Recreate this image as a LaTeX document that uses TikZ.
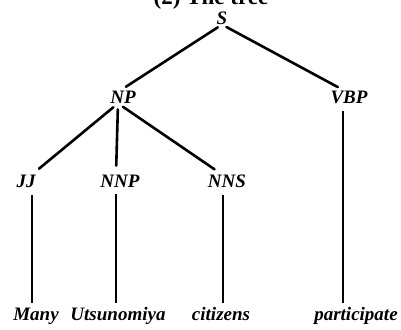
\documentclass[tikz,border=0pt]{standalone}
\usepackage{fontspec}
\setmainfont{Liberation Serif}
\begin{document}
\begin{tikzpicture}[x=1pt,y=-1pt,
  lbl/.style={inner sep=0pt, font=\fontsize{19}{21}\selectfont\bfseries\itshape},
  word/.style={lbl, anchor=base},
  branch/.style={line width=2.6pt, line cap=round},
  stem/.style={line width=1.7pt}]
  \useasboundingbox (0,0) rectangle (401,329);

  % heading, only its lower edge falls inside the page
  \node[anchor=base, inner sep=0pt, font=\fontsize{23}{25}\selectfont\bfseries] (title) at (211,4.5) {(2) The tree};

  % phrase labels
  \node[lbl] (S)   at (222,18) {S};
  \node[lbl] (NP)  at (123,97) {NP};
  \node[lbl] (VBP) at (349,97) {VBP};
  \node[lbl] (JJ)  at (26,181) {JJ};
  \node[lbl] (NNP) at (120,181) {NNP};
  \node[lbl] (NNS) at (227,181) {NNS};

  % words
  \node[word] (w1) at (36,320)  {Many};
  \node[word] (w2) at (118,320) {Utsunomiya};
  \node[word] (w3) at (221,320) {citizens};
  \node[word] (w4) at (356,320) {participate};

  % branches below S
  \draw[branch, shorten <=5pt, shorten >=7pt] (S.south) -- ([xshift=-3pt]NP.north);
  \draw[branch, shorten <=5pt, shorten >=7pt] (S.south) -- ([xshift=-5pt]VBP.north);

  % branches below NP
  \draw[branch, shorten <=6pt, shorten >=9pt] ([xshift=-5pt]NP.south) -- ([xshift=6pt]JJ.north);
  \draw[branch, shorten <=6pt, shorten >=9pt] ([xshift=-5pt]NP.south) -- ([xshift=-4pt]NNP.north);
  \draw[branch, shorten <=6pt, shorten >=9pt] ([xshift=-5pt]NP.south) -- ([xshift=-5pt]NNS.north);

  % stems down to the words
  \draw[stem, shorten <=7pt, shorten >=4pt] ([xshift=6pt]JJ.south) -- ([xshift=6pt]JJ.south |- w1.north);
  \draw[stem, shorten <=7pt, shorten >=4pt] ([xshift=-4pt]NNP.south) -- ([xshift=-4pt]NNP.south |- w2.north);
  \draw[stem, shorten <=7pt, shorten >=4pt] ([xshift=-4pt]NNS.south) -- ([xshift=-4pt]NNS.south |- w3.north);
  \draw[stem, shorten <=7pt, shorten >=4pt] ([xshift=-6pt]VBP.south) -- ([xshift=-6pt]VBP.south |- w4.north);
\end{tikzpicture}
\end{document}
